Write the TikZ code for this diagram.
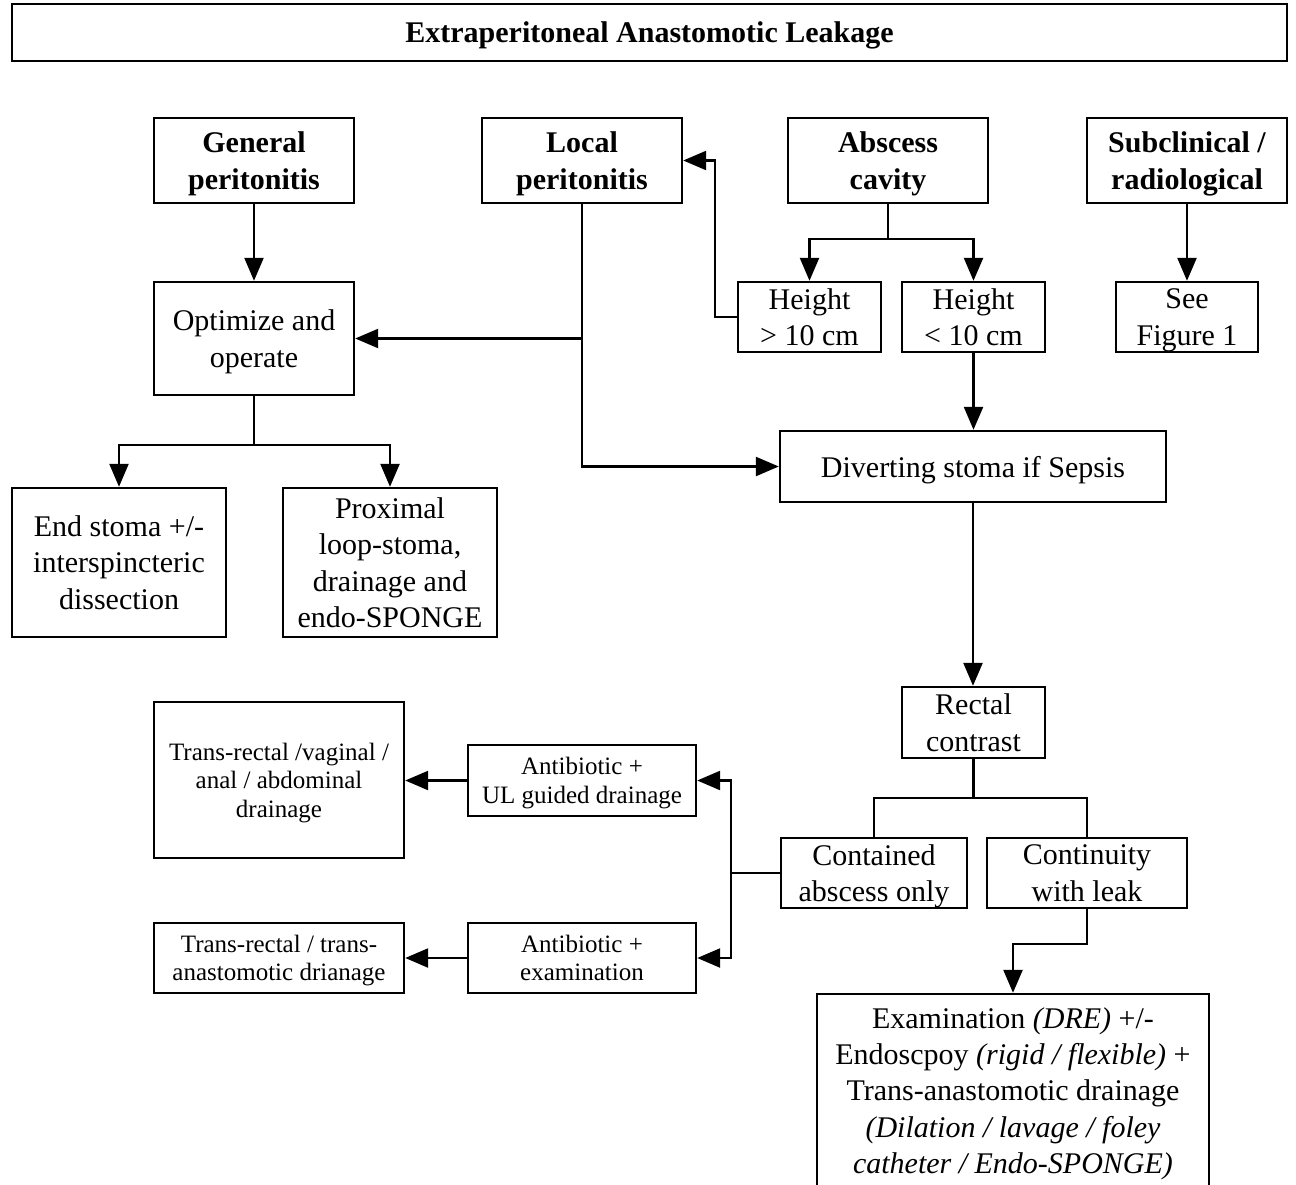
\documentclass[tikz,border=0pt]{standalone}
\usepackage{fontspec}
\setmainfont{Liberation Serif}
\usetikzlibrary{arrows.meta,positioning}
\tikzset{
  box/.style={draw, line width=2.4pt, rectangle, align=center, inner sep=0pt, text depth=0pt},
  body/.style={font=\fontsize{30}{36.2}\selectfont},
  head/.style={font=\fontsize{30}{37}\selectfont\bfseries},
  small/.style={font=\fontsize{25}{28.5}\selectfont},
  conn/.style={line width=2.4pt},
  arr/.style={conn, -{Triangle[length=23pt,width=19pt]}},
}
\begin{document}
\begin{tikzpicture}[x=1pt,y=-1pt]
\useasboundingbox[fill=white] (0,0) rectangle (1296,1184);
% title
\node[box, minimum width=1275pt, minimum height=57pt, font=\fontsize{30}{34}\selectfont\bfseries] (title) at (649.5,32.5) {Extraperitoneal Anastomotic Leakage};
% top row
\node[box, head, minimum width=200pt, minimum height=85pt] (gen) at (254,160.5) {General\\peritonitis};
\node[box, head, minimum width=200pt, minimum height=85pt] (loc) at (582,160.5) {Local\\peritonitis};
\node[box, head, minimum width=200pt, minimum height=85pt] (abs) at (888,160.5) {Abscess\\cavity};
\node[box, head, minimum width=200pt, minimum height=85pt] (sub) at (1187,160.5) {Subclinical /\\radiological};
% second row
\node[box, body, minimum width=200pt, minimum height=113pt] (opt) at (254,338.5) {Optimize and\\operate};
\node[box, body, minimum width=143pt, minimum height=70pt] (h1) at (809.5,317) {Height\\> 10 cm};
\node[box, body, minimum width=143pt, minimum height=70pt] (h2) at (973.5,317) {Height\\< 10 cm};
\node[box, body, minimum width=142pt, minimum height=70pt] (see) at (1187,317) {See\\Figure 1};
% third row
\node[box, body, minimum width=386pt, minimum height=71pt] (div) at (973,466.5) {Diverting stoma if Sepsis};
\node[box, body, minimum width=214pt, minimum height=149pt] (endst) at (119,562.5) {End stoma +/-\\interspincteric\\dissection};
\node[box, body, minimum width=214pt, minimum height=149pt] (prox) at (390,562.5) {Proximal\\loop-stoma,\\drainage and\\endo-SPONGE};
% rectal contrast
\node[box, body, minimum width=143pt, minimum height=71pt] (rect) at (973.5,722.5) {Rectal\\contrast};
\node[box, body, minimum width=186pt, minimum height=70pt] (cont) at (874,873) {Contained\\abscess only};
\node[box, body, minimum width=200pt, minimum height=70pt] (leak) at (1087,873) {Continuity\\with leak};
% left bottom
\node[box, small, minimum width=250pt, minimum height=156pt] (tr1) at (279,780) {Trans-rectal /vaginal /\\anal / abdominal\\drainage};
\node[box, small, minimum width=228pt, minimum height=71pt] (ab1) at (582,780.5) {Antibiotic +\\UL guided drainage};
\node[box, small, minimum width=250pt, minimum height=70pt] (tr2) at (279,958) {Trans-rectal / trans-\\anastomotic drianage};
\node[box, small, minimum width=228pt, minimum height=70pt] (ab2) at (582,958) {Antibiotic +\\examination};
% examination
\node[box, body, minimum width=392pt, minimum height=193pt] (exam) at (1013,1090.5) {Examination \textit{(DRE)} +/-\\Endoscpoy \textit{(rigid / flexible)} +\\Trans-anastomotic drainage\\\textit{(Dilation / lavage / foley}\\\textit{catheter / Endo-SPONGE)}};
% connectors
\draw[arr] (gen) -- (opt);
\draw[conn] (opt.south) -- (254,445) coordinate (b1);
\draw[arr] (b1) -| (endst.north);
\draw[arr] (b1) -| (prox.north);
\draw[arr] (loc.south) |- (div.west);
\draw[arr] (loc.south |- opt.east) -- (opt.east);
\draw[conn] (abs.south) -- (888,239) coordinate (b2);
\draw[arr] (b2) -| (h1.north);
\draw[arr] (b2) -| (h2.north);
\draw[arr] (h1.west) -- ++(-22,0) |- (loc.east);
\draw[arr] (h2.south) -- (h2.south |- div.north);
\draw[arr] (sub) -- (see);
\draw[arr] (div.south) -- (div.south |- rect.north);
\draw[conn] (rect.south) -- (973.5,798) coordinate (b3);
\draw[conn] (b3) -| (cont.north);
\draw[conn] (b3) -| (leak.north);
\draw[conn] (cont.west) -- ++(-49,0) coordinate (b4);
\draw[arr] (b4) |- (ab1.east);
\draw[arr] (b4) |- (ab2.east);
\draw[arr] (ab1.west) -- (ab1.west -| tr1.east);
\draw[arr] (ab2) -- (tr2);
\draw[arr] (leak.south) -- ++(0,35) -| (exam.north);
\end{tikzpicture}
\end{document}
